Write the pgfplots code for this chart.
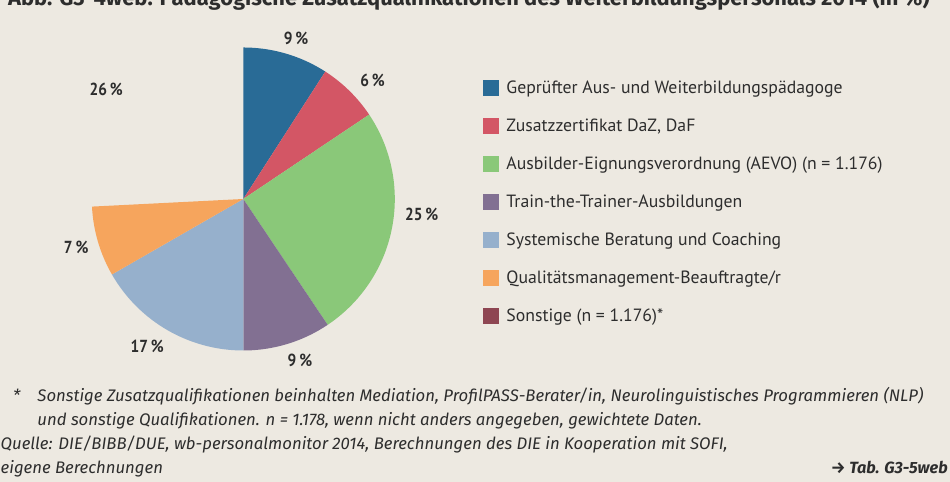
\documentclass[border=0pt]{standalone}
\usepackage{fontspec}
\setmainfont{PT Sans}
\newfontfamily\labfont{PT Sans}[FakeStretch=0.88]
\newfontfamily\firafont{Fira Sans}
\usepackage{pgfplots}
\usepackage{pgfplotstable}
\pgfplotsset{compat=1.18}
\definecolor{bg}{RGB}{237,233,225}
\definecolor{txt}{RGB}{45,45,45}
\definecolor{cA}{RGB}{41,107,150}
\definecolor{cB}{RGB}{211,86,101}
\definecolor{cC}{RGB}{138,200,121}
\definecolor{cD}{RGB}{130,112,146}
\definecolor{cE}{RGB}{150,176,204}
\definecolor{cF}{RGB}{246,165,93}
\definecolor{cG}{RGB}{142,70,82}

% shares in percent, clockwise from 12 o'clock
\pgfplotstableread{
value
9.1
6.5
25.0
9.4
16.7
7.5
25.8
}\piedata

\begin{document}
\begin{tikzpicture}[x=1bp,y=1bp]
\pgfplotstablegetelem{0}{value}\of\piedata \let\vA\pgfplotsretval
\pgfplotstablegetelem{1}{value}\of\piedata \let\vB\pgfplotsretval
\pgfplotstablegetelem{2}{value}\of\piedata \let\vC\pgfplotsretval
\pgfplotstablegetelem{3}{value}\of\piedata \let\vD\pgfplotsretval
\pgfplotstablegetelem{4}{value}\of\piedata \let\vE\pgfplotsretval
\pgfplotstablegetelem{5}{value}\of\piedata \let\vF\pgfplotsretval
\pgfmathsetmacro\aA{90}
\pgfmathsetmacro\aB{\aA-3.6*\vA}
\pgfmathsetmacro\aC{\aB-3.6*\vB}
\pgfmathsetmacro\aD{\aC-3.6*\vC}
\pgfmathsetmacro\aE{\aD-3.6*\vD}
\pgfmathsetmacro\aF{\aE-3.6*\vE}
\pgfmathsetmacro\aG{\aF-3.6*\vF}
\useasboundingbox (0,0) rectangle (950,482);
\fill[bg] (0,0) rectangle (950,482);
\begin{scope}
\clip (0,0) rectangle (950,482);
\node[anchor=base west, inner sep=0, font=\firafont\bfseries\fontsize{22}{22}\selectfont, text=txt] at (8,476.3) {Abb. G3-4web: Pädagogische Zusatzqualifikationen des Weiterbildungspersonals 2014 (in \%)};
\end{scope}
\begin{axis}[
  at={(243.3bp,283bp)}, anchor=center,
  width=303bp, height=303bp, scale only axis,
  xmin=-1, xmax=1, ymin=-1, ymax=1,
  hide axis, clip=false,
  samples at={-1,0,1,...,100}, variable=\t,
  legend image code/.code={\fill[#1] (0bp,-8bp) rectangle (16bp,8bp);},
  legend style={at={(1.292,0.898)}, anchor=north west, draw=none, fill=none,
    inner sep=0pt, row sep=20bp, text=txt,
    font=\fontsize{17.8}{17.8}\selectfont,
    /tikz/every odd column/.append style={column sep=5bp}},
  legend cell align=left,
]
\newcommand\slice[3]{%
  \addplot[fill=#1, draw=none]
   ({(\t<0?0:1)*cos(#2+(#3-#2)*max(\t,0)/100)},
    {(\t<0?0:1)*sin(#2+(#3-#2)*max(\t,0)/100)});}
\slice{cA}{\aA}{\aB}
\addlegendentry{Geprüfter Aus- und Weiterbildungspädagoge}
\slice{cB}{\aB}{\aC}
\addlegendentry{Zusatzzertifikat DaZ, DaF}
\slice{cC}{\aC}{\aD}
\addlegendentry{Ausbilder-Eignungsverordnung (AEVO) (n = 1.176)}
\slice{cD}{\aD}{\aE}
\addlegendentry{Train-the-Trainer-Ausbildungen}
\slice{cE}{\aE}{\aF}
\addlegendentry{Systemische Beratung und Coaching}
\slice{cF}{\aF}{\aG}
\addlegendentry{Qualitätsmanagement-Beauftragte/r}
\addlegendimage{fill=cG, draw=none}
\addlegendentry{Sonstige (n = 1.176)*}
\begin{scope}[every node/.style={font=\labfont\bfseries\fontsize{17.5}{17.5}\selectfont, text=txt}]
\node at (axis cs:0.348,1.057) {9\,\%};
\node at (axis cs:0.853,0.782) {6\,\%};
\node at (axis cs:1.178,-0.102) {25\,\%};
\node at (axis cs:0.374,-1.063) {9\,\%};
\node at (axis cs:-0.634,-0.972) {17\,\%};
\node at (axis cs:-1.103,-0.320) {7\,\%};
\node at (axis cs:-0.905,0.725) {26\,\%};
\end{scope}
\end{axis}
\begin{scope}[every node/.style={anchor=base west, inner sep=0, text=txt, font=\firafont\itshape\fontsize{16.8}{16.8}\selectfont}]
\node at (13,80) {*};
\node at (37.3,80) {Sonstige Zusatzqualifikationen beinhalten Mediation, ProfilPASS-Berater/in, Neurolinguistisches Programmieren (NLP)};
\node at (37.3,56) {und sonstige Qualifikationen. n = 1.178, wenn nicht anders angegeben, gewichtete Daten.};
\node at (0.5,32) {Quelle: DIE/BIBB/DUE, wb-personalmonitor 2014, Berechnungen des DIE in Kooperation mit SOFI,};
\node at (0.5,8) {eigene Berechnungen};
\node[anchor=base east, font=\firafont\bfseries\itshape\fontsize{16.3}{16.3}\selectfont] at (948,8) {→ Tab. G3-5web};
\end{scope}
\end{tikzpicture}
\end{document}
